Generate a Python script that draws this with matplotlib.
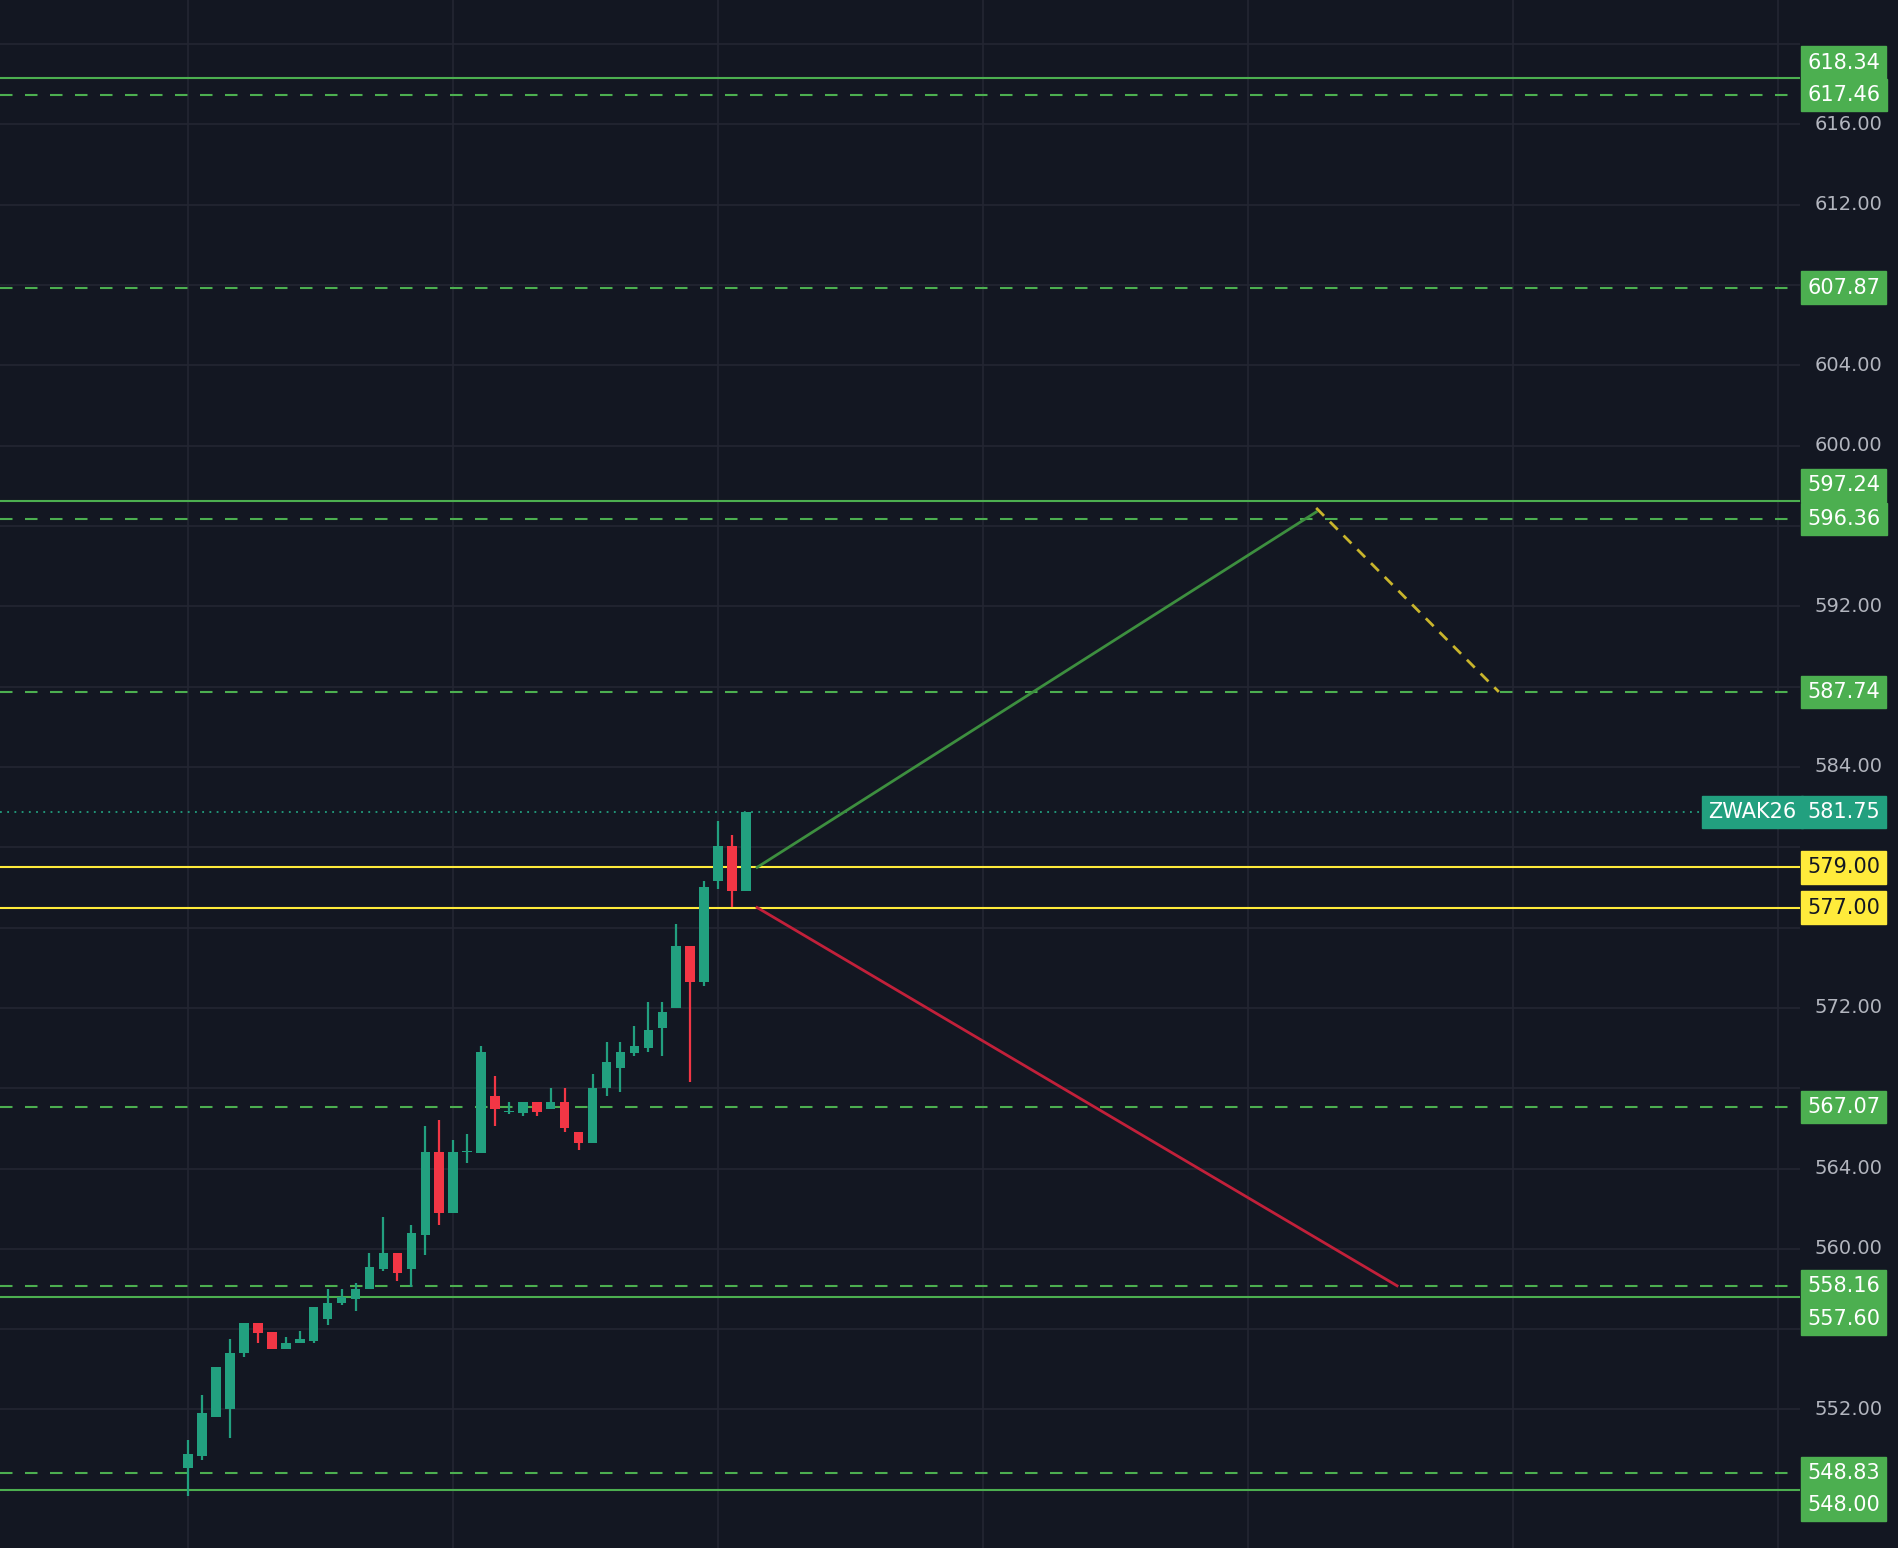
import matplotlib
matplotlib.use("Agg")
import matplotlib.pyplot as plt
import matplotlib.transforms as mtransforms

# candle data (open, high, low, close)
opens = [549.1, 549.7, 551.6, 552.0, 554.8, 556.3, 555.85, 555.0, 555.3, 555.4,
         556.5, 557.3, 557.5, 558.0, 559.0, 559.8, 559.0, 560.7, 564.8, 561.8,
         564.8, 564.75, 567.6, 566.8, 566.75, 567.3, 566.95, 567.3, 565.8, 565.25,
         568.0, 569.0, 569.75, 570.0, 571.0, 572.0, 575.1, 573.3, 578.3, 580.05, 577.8]
highs = [550.5, 552.7, 554.1, 555.5, 556.3, 556.3, 555.85, 555.6, 555.9, 557.1,
         558.0, 558.0, 558.3, 559.8, 561.6, 559.8, 561.2, 566.1, 566.4, 565.4,
         565.7, 570.1, 568.6, 567.3, 567.3, 567.3, 568.0, 568.0, 565.8, 568.7,
         570.3, 570.3, 571.1, 572.3, 572.3, 576.2, 575.1, 578.3, 581.3, 580.6, 581.75]
lows = [547.7, 549.5, 551.6, 550.6, 554.6, 555.3, 555.0, 555.0, 555.3, 555.3,
        556.2, 557.2, 556.9, 558.0, 558.9, 558.4, 558.1, 559.7, 561.2, 561.8,
        564.3, 564.75, 566.1, 566.7, 566.6, 566.6, 566.95, 565.8, 564.9, 565.25,
        567.6, 567.8, 569.6, 569.8, 569.6, 572.0, 568.3, 573.1, 577.9, 577.05, 577.8]
closes = [549.8, 551.8, 554.1, 554.8, 556.3, 555.8, 555.0, 555.3, 555.5, 557.1,
          557.3, 557.6, 558.0, 559.1, 559.8, 558.8, 560.8, 564.8, 561.8, 564.8,
          564.85, 569.8, 566.95, 566.85, 567.3, 566.8, 567.3, 566.0, 565.25, 568.0,
          569.3, 569.8, 570.1, 570.9, 571.8, 575.1, 573.3, 578.0, 580.05, 577.8, 581.75]

solid_levels = [618.34, 597.24, 557.60, 548.00]
dashed_levels = [617.46, 607.87, 596.36, 587.74, 567.07, 558.16, 548.83]
yellow_levels = [579.00, 577.00]
last_price = 581.75
ticker = "ZWAK26"
tick_prices = list(range(548, 621, 4))

# projection paths
up_x, up_y = [40.8, 80.9], [579.0, 596.7]
down_x, down_y = [80.9, 94.0], [596.9, 587.74]
red_x, red_y = [40.8, 86.7], [577.0, 558.16]

# where crowded tags get drawn on the price scale
tag_shift = {618.34: 619.08, 597.24: 598.03, 557.60: 556.53, 548.00: 547.24}

bg = "#131722"
grid_c = "#232632"
up_c = "#22a07f"
dn_c = "#f23645"
lvl_c = "#4caf50"
yel_c = "#ffeb3b"

fig = plt.figure(figsize=(18.98, 15.48), dpi=100, facecolor=bg)
ax = fig.add_axes([0, 0, 1800 / 1898, 1])
ax.set_facecolor(bg)
ax.set_xlim(-13.5, 115.6)
ax.set_ylim(545.1, 622.2)
for s in ax.spines.values():
    s.set_visible(False)
ax.set_xticks([])
ax.set_yticks([])

for p in tick_prices:
    ax.axhline(p, color=grid_c, lw=1.2, zorder=0)
for gx in range(0, 116, 19):
    ax.axvline(gx, color=grid_c, lw=1.2, zorder=0)

for i, (o, h, l, c) in enumerate(zip(opens, highs, lows, closes)):
    col = up_c if c >= o else dn_c
    ax.vlines(i, l, h, color=col, lw=1.6, zorder=3)
    bot, top = min(o, c), max(o, c)
    ax.bar(i, max(top - bot, 0.08), bottom=bot, width=0.68, color=col, zorder=3)

for lv in solid_levels:
    ax.axhline(lv, color=lvl_c, lw=1.5, zorder=2)
for lv in dashed_levels:
    ax.axhline(lv, color=lvl_c, lw=1.5, ls=(0, (6, 6)), zorder=2)
for lv in yellow_levels:
    ax.axhline(lv, color=yel_c, lw=1.5, zorder=2)
ax.axhline(last_price, color=up_c, lw=1.3, ls=(0, (1, 3)), zorder=2)

ax.plot(up_x, up_y, color="#3d8f3f", lw=2, zorder=4)
ax.plot(down_x, down_y, color="#c9b52c", lw=2, ls=(0, (4, 3)), zorder=4)
ax.plot(red_x, red_y, color="#c2203a", lw=2, zorder=4)

tr = mtransforms.blended_transform_factory(ax.transAxes, ax.transData)
tag_pos = [tag_shift.get(v, v) for v in solid_levels + dashed_levels + yellow_levels + [last_price]]

# tick labels hidden where a tag covers them
for p in tick_prices:
    if min(abs(p - t) for t in tag_pos) < 1.2:
        continue
    ax.text(1.008, p, f"{p:.2f}", transform=tr, color="#b2b5be", fontsize=14,
            va="center", ha="left", clip_on=False)

def tag(price, fc, tc):
    y = tag_shift.get(price, price)
    ax.text(1.004, y, f"{price:.2f}", transform=tr, color=tc, fontsize=15,
            va="center", ha="left", clip_on=False, zorder=10,
            bbox=dict(boxstyle="square,pad=0.3", fc=fc, ec=fc))

for lv in solid_levels + dashed_levels:
    tag(lv, lvl_c, "white")
for lv in yellow_levels:
    tag(lv, yel_c, "#131722")
tag(last_price, up_c, "white")
ax.text(0.998, last_price, ticker, transform=tr, color="white", fontsize=15,
        va="center", ha="right", clip_on=False, zorder=10,
        bbox=dict(boxstyle="square,pad=0.3", fc=up_c, ec=up_c))

fig.savefig("out.png", dpi=100, facecolor=bg)
